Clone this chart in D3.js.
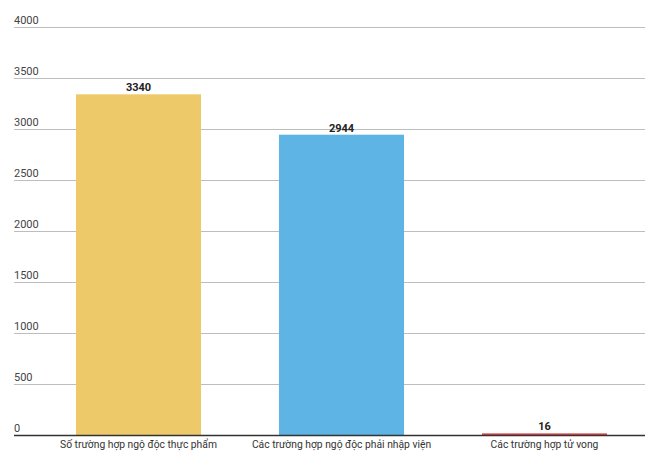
<!DOCTYPE html>
<html><head><meta charset="utf-8">
<script src="https://cdn.jsdelivr.net/npm/d3@7"></script>
<style>body{margin:0;background:#fff}svg{display:block;font-family:Roboto,sans-serif}</style>
</head><body><svg id="c" width="660" height="460"></svg>
<script>
const categories = ["Số trường hợp ngộ độc thực phẩm", "Các trường hợp ngộ độc phải nhập viện", "Các trường hợp tử vong"];
const values = [3340, 2944, 16];
const colors = ["#EDC96A", "#5DB4E5", "#E2464A"];
const yTicks = [0, 500, 1000, 1500, 2000, 2500, 3000, 3500, 4000];

const svg = d3.select("#c");
const left = 14, right = 645;
const x = d3.scaleBand().domain(categories).range([37, 646]).paddingInner(0.384).paddingOuter(0.192);
const y = d3.scaleLinear().domain([0, 4000]).range([435, 27]);

const grid = svg.append("g");
yTicks.forEach(t => {
  if (t !== 0) grid.append("line").attr("x1", left).attr("x2", right).attr("y1", y(t)+0.5).attr("y2", y(t)+0.5).attr("stroke", "#bdbdbd").attr("stroke-width", 1);
  grid.append("text").attr("x", left).attr("y", y(t) - 3).attr("font-size", 11).attr("fill", "#444").text(t);
});

svg.selectAll("rect.bar").data(values).enter().append("rect").attr("class","bar")
  .attr("x", (d,i) => x(categories[i])).attr("width", x.bandwidth())
  .attr("y", d => y(d)).attr("height", d => y(0) - y(d))
  .attr("fill", (d,i) => colors[i]);

svg.append("line").attr("x1", left).attr("x2", right).attr("y1", y(0)+0.5).attr("y2", y(0)+0.5).attr("stroke", "#333").attr("stroke-width", 1.5);

svg.selectAll("text.val").data(values).enter().append("text").attr("class","val")
  .attr("x", (d,i) => x(categories[i]) + x.bandwidth()/2).attr("y", d => y(d) - 3)
  .attr("text-anchor","middle").attr("font-size", 11).attr("font-weight","bold").attr("fill","#222").text(d => d);

svg.selectAll("text.cat").data(categories).enter().append("text").attr("class","cat")
  .attr("x", d => x(d) + x.bandwidth()/2).attr("y", 448)
  .attr("text-anchor","middle").attr("font-size", 10.3).attr("fill","#333").text(d => d);
</script></body></html>
